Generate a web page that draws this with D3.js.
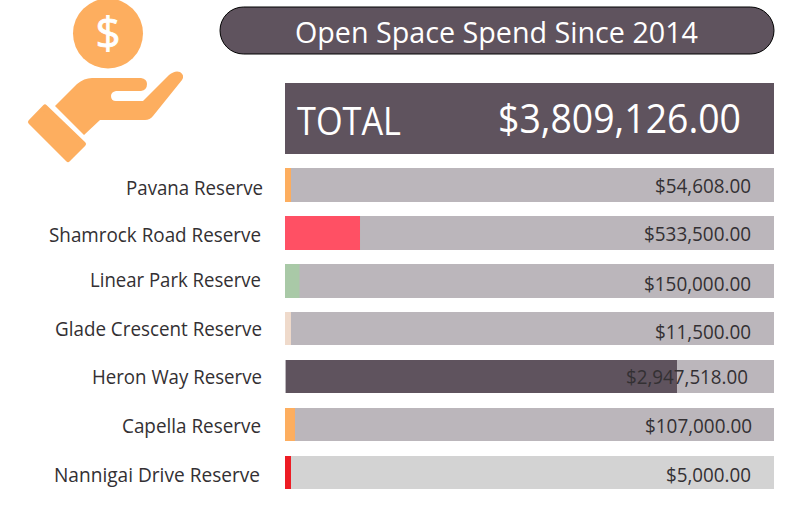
<!DOCTYPE html>
<html><head><meta charset="utf-8">
<script src="https://cdn.jsdelivr.net/npm/d3@7"></script>
<style>html,body{margin:0;padding:0;background:#fff}svg{display:block}text{font-family:"Open Sans",sans-serif}</style>
</head><body><svg id="c" width="802" height="505"></svg>
<script>
const categories = ["Pavana Reserve","Shamrock Road Reserve","Linear Park Reserve","Glade Crescent Reserve","Heron Way Reserve","Capella Reserve","Nannigai Drive Reserve"];
const amountLabels = ["$54,608.00","$533,500.00","$150,000.00","$11,500.00","$2,947,518.00","$107,000.00","$5,000.00"];
// Bar lengths (they do not follow the printed amounts exactly)
const barValues = [45000,564000,109000,45000,2947518,75000,45000];
const barColors = ["#fdae5f","#ff5064","#a9c9a7","#efdacb","#5f535e","#fdae5f","#ed1c24"];
const trackColors = ["#bbb6bb","#bbb6bb","#bbb6bb","#bbb6bb","#bbb6bb","#bbb6bb","#d3d3d3"];
const titleText = "Open Space Spend Since 2014";
const totalLabel = "TOTAL";
const totalText = "$3,809,126.00";
const domainMax = 3677000;

const svg = d3.select("#c");
const dark = "#5f535e", ink = "#333033";
const x = d3.scaleLinear().domain([0,domainMax]).range([285,774]);
const tops = [168,216,264,312,360,408,456];
const heights = [34,34,34,33,33,33,33];
const catY = [195,242,287,336,384,433,482];
const amtY = [193,241,291,339,384,433,482];
const catR = [263,261,261,262,262,261,260];
const amtR = [751,751,751,751,748,752,751];
const catW = [137,212,171,207,170,139,206];
const amtW = [96,107,107,96,122,107,85];
const barInset = [0,0,0,0,1,0,0];

function fit(sel, w){ sel.attr("textLength",w).attr("lengthAdjust","spacingAndGlyphs"); return sel; }

// icon
const icon = svg.append("g").attr("fill","#fdae5f").attr("stroke","#fdae5f").attr("stroke-linejoin","round");
icon.append("circle").attr("cx",108).attr("cy",33.5).attr("r",35).attr("stroke","none");
icon.append("path").attr("stroke-width",5).attr("d","M45,107 L30.5,122 L68,159.5 L83.5,144 Z");
icon.append("path").attr("stroke","none").attr("d","M55,106 L77,84 Q84,78 92,78 L141,78 Q147,79 147,84 Q147,90 141,91 L116,91 Q111,92 111,96 Q111,101 116,101 L143,101 L169,75 Q175,70 180,72 Q185,75 182,80 L153,116 Q150,120 145,120 L100,120 L84,135 Z");
svg.append("text").text("$").attr("x",108).attr("y",49).attr("text-anchor","middle").attr("fill","#fff").attr("stroke","#fff").attr("stroke-width",0.8).attr("font-size",44);

// title pill
svg.append("rect").attr("x",220).attr("y",7).attr("width",554).attr("height",47).attr("rx",23.5).attr("fill",dark).attr("stroke","#000").attr("stroke-width",1);
fit(svg.append("text").text(titleText).attr("x",295).attr("y",43).attr("font-size",30).attr("fill","#fff"),403);

// total
svg.append("rect").attr("x",285).attr("y",83).attr("width",489).attr("height",71).attr("fill",dark);
fit(svg.append("text").text(totalLabel).attr("x",297).attr("y",135).attr("font-size",39).attr("fill","#fff"),104);
fit(svg.append("text").text(totalText).attr("x",498).attr("y",133).attr("font-size",40).attr("fill","#fff"),243);

// rows
const rows = svg.selectAll("g.row").data(categories).join("g").attr("class","row");
rows.append("rect").attr("x",x(0)).attr("y",(d,i)=>tops[i]).attr("height",(d,i)=>heights[i]).attr("width",x(domainMax)-x(0)).attr("fill",(d,i)=>trackColors[i]);
rows.append("rect").attr("x",(d,i)=>x(0)+barInset[i]).attr("y",(d,i)=>tops[i]).attr("height",(d,i)=>heights[i]).attr("width",(d,i)=>x(barValues[i])-x(0)-barInset[i]).attr("fill",(d,i)=>barColors[i]);
rows.append("text").text(d=>d).attr("x",(d,i)=>catR[i]).attr("y",(d,i)=>catY[i]).attr("text-anchor","end").attr("font-size",20).attr("fill",ink).attr("textLength",(d,i)=>catW[i]).attr("lengthAdjust","spacingAndGlyphs");
rows.append("text").text((d,i)=>amountLabels[i]).attr("x",(d,i)=>amtR[i]).attr("y",(d,i)=>amtY[i]).attr("text-anchor","end").attr("font-size",20).attr("fill",ink).attr("textLength",(d,i)=>amtW[i]).attr("lengthAdjust","spacingAndGlyphs");
</script></body></html>
